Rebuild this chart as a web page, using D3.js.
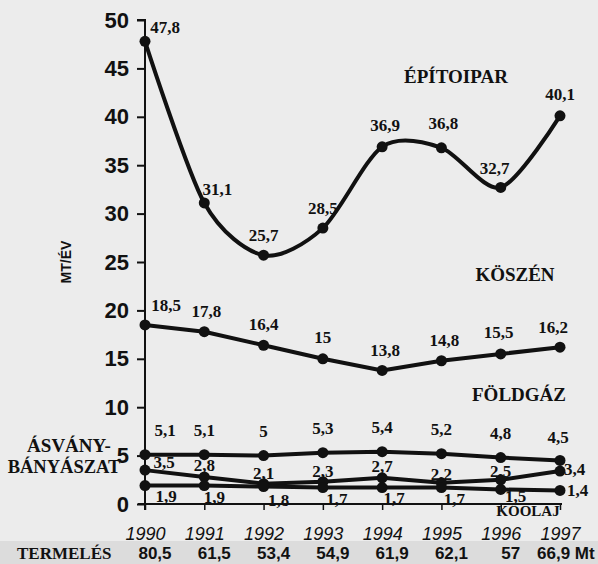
<!DOCTYPE html>
<html><head><meta charset="utf-8">
<script src="https://cdn.jsdelivr.net/npm/d3@7"></script>
<style>body{margin:0;background:#ececec}svg{display:block}</style>
</head><body>
<svg id="c" width="598" height="564"></svg>
<script>
const years = [1990,1991,1992,1993,1994,1995,1996,1997];
const epitoipar = [47.8,31.1,25.7,28.5,36.9,36.8,32.7,40.1];
const koszen = [18.5,17.8,16.4,15,13.8,14.8,15.5,16.2];
const foldgaz = [5.1,5.1,5,5.3,5.4,5.2,4.8,4.5];
const asvany = [3.5,2.8,2.1,2.3,2.7,2.2,2.5,3.4];
const koolaj = [1.9,1.9,1.8,1.7,1.7,1.7,1.5,1.4];
const termeles = ["80,5","61,5","53,4","54,9","61,9","62,1","57","66,9 Mt"];
const yTicks = [0,5,10,15,20,25,30,35,40,45,50];

const fmt = v => String(v).replace(".", ",");
const svg = d3.select("#c");
const x = d3.scalePoint().domain(years).range([145, 560]);
const y = d3.scaleLinear().domain([0,50]).range([504, 20]);

// termelés band
svg.append("rect").attr("x",0).attr("y",541).attr("width",598).attr("height",23).attr("fill","#dcdcdc");

// y axis
const yAxis = d3.axisLeft(y).tickValues(yTicks).tickSize(8).tickPadding(8);
const gy = svg.append("g").attr("transform","translate(145,0)").call(yAxis);
gy.select(".domain").attr("d","M-8,20H0V510").attr("stroke","#111").attr("stroke-width",2).attr("fill","none");
gy.selectAll(".tick line").attr("stroke","#111").attr("stroke-width",2);
gy.selectAll(".tick text").attr("font-family","Liberation Sans, Arial, sans-serif").attr("font-weight","bold").attr("font-size",22).attr("fill","#111");

// x axis
const xAxis = d3.axisBottom(x).tickSize(6).tickPadding(17).tickFormat(d=>d);
const gx = svg.append("g").attr("transform","translate(0,504)").call(xAxis);
gx.select(".domain").attr("d","M138,0H562").attr("stroke","#111").attr("stroke-width",2);
gx.selectAll(".tick line").attr("stroke","#111").attr("stroke-width",1.5);
gx.selectAll(".tick text").attr("font-family","Liberation Sans, Arial, sans-serif").attr("font-style","italic").attr("font-size",18).attr("fill","#111");

// y title
svg.append("text").attr("transform","translate(71,262) rotate(-90)").attr("text-anchor","middle")
  .attr("font-family","Liberation Sans, Arial, sans-serif").attr("font-weight","bold").attr("font-size",14).attr("fill","#111").text("MT/ÉV");

const series = [
  {name:"epito", vals:epitoipar, curve:d3.curveCardinal.tension(0.15), dx:[20,13,0,0,3,2,-6,0], dy:[-14,-14,-20,-20,-22,-25,-19,-22]},
  {name:"koszen", vals:koszen, curve:d3.curveLinear, dx:[21,2,0,0,3,3,-2,-7], dy:[-20,-21,-21,-22,-20,-21,-22,-20]},
  {name:"foldgaz", vals:foldgaz, curve:d3.curveLinear, dx:[20,0,0,0,0,0,0,-2], dy:[-25,-25,-25,-25,-25,-25,-24,-23]},
  {name:"asvany", vals:asvany, curve:d3.curveLinear, dx:[19,0,0,0,0,0,0,4], dy:[-8,-12,-11,-11,-12,-9,-9,-2]},
  {name:"koolaj", vals:koolaj, curve:d3.curveLinear, dx:[21,10,15,14,12,13,15,7], dy:[10,11,13,12,11,12,7,0]}
];

series.forEach(s=>{
  const pts = years.map((yr,i)=>[x(yr), y(s.vals[i])]);
  svg.append("path").attr("d", d3.line().curve(s.curve)(pts)).attr("fill","none").attr("stroke","#111").attr("stroke-width",4).attr("stroke-linejoin","round");
  svg.selectAll(null).data(years).enter().append("circle")
    .attr("cx",d=>x(d)).attr("cy",(d,i)=>y(s.vals[i])).attr("r",5.5).attr("fill","#111");
  svg.selectAll(null).data(years).enter().append("text")
    .attr("x",(d,i)=>x(d)+s.dx[i]).attr("y",(d,i)=>y(s.vals[i])+s.dy[i]).attr("dy","0.35em")
    .attr("text-anchor",(d,i)=> (i===7 && (s.name==="asvany"||s.name==="koolaj")) ? "start" : "middle")
    .attr("font-family","Liberation Serif, Times New Roman, serif").attr("font-weight","bold").attr("font-size",17).attr("fill","#111")
    .text((d,i)=>fmt(s.vals[i]));
});

// category labels
const cat = (t,cx,cy,fs)=>svg.append("text").attr("x",cx).attr("y",cy).attr("text-anchor","middle")
  .attr("font-family","Liberation Serif, Times New Roman, serif").attr("font-weight","bold").attr("font-size",fs||19).attr("fill","#111").text(t);
cat("ÉPÍTOIPAR",456,83);
cat("KÖSZÉN",515,281);
cat("FÖLDGÁZ",519,401);
cat("ÁSVÁNY-",69,452);
cat("BÁNYÁSZAT",64,473,18.5);
cat("KŐOLAJ",528,516,15);

// termelés row
svg.append("text").attr("x",17).attr("y",559).attr("font-family","Liberation Serif, Times New Roman, serif").attr("font-weight","bold").attr("font-size",17).attr("fill","#111").text("TERMELÉS");
svg.selectAll(null).data(years).enter().append("text")
  .attr("x",(d,i)=> i===7 ? x(d)-23 : x(d)+10).attr("y",559)
  .attr("text-anchor",(d,i)=> i===7 ? "start":"middle")
  .attr("font-family","Liberation Sans, Arial, sans-serif").attr("font-weight","bold").attr("font-size",17).attr("fill","#111")
  .text((d,i)=>termeles[i]);
</script>
</body></html>
